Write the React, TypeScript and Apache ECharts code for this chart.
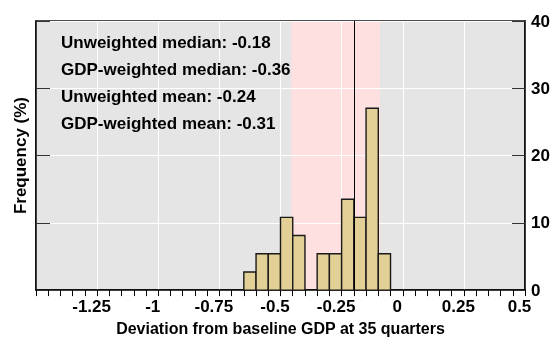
import React, { useEffect, useRef } from "react";
import * as echarts from "echarts";

const binLeft = [-0.65, -0.6, -0.55, -0.5, -0.45, -0.4, -0.35, -0.3, -0.25, -0.2, -0.15, -0.1];
const binWidth = 0.05;
const frequency = [2.7, 5.41, 5.41, 10.81, 8.11, 0, 5.41, 5.41, 13.51, 10.81, 27.03, 5.41];
const bandRange = [-0.455, -0.093];
const medianLine = -0.2;
const xRange = [-1.5, 0.5];
const yRange = [0, 40];
const annotations = [
  "Unweighted median: -0.18",
  "GDP-weighted median: -0.36",
  "Unweighted mean: -0.24",
  "GDP-weighted mean: -0.31",
];
const annotationY = [42, 69, 96.5, 123.5];

const FONT = '"Liberation Sans", Arial, Helvetica, sans-serif';

export default function App() {
  const ref = useRef<HTMLDivElement>(null);
  useEffect(() => {
    if (!ref.current) return;
    const chart = echarts.init(ref.current, null, { renderer: "svg" });
    const data = binLeft
      .map((l, i) => [l, l + binWidth, frequency[i]])
      .filter((d) => d[2] > 0);
    const areas = [
      [xRange[0], xRange[1], 0],
      [bandRange[0], bandRange[1], 1],
    ];
    const areaColors = ["#e5e5e5", "#ffe0e0"];
    chart.setOption({
      animation: false,
      grid: {
        left: 36,
        right: 30,
        top: 21,
        bottom: 50,
        show: true,
        backgroundColor: "transparent",
        borderColor: "#111",
        borderWidth: 1.5,
      },
      xAxis: {
        type: "value",
        min: xRange[0],
        max: xRange[1],
        interval: 0.25,
        axisLine: { show: true, onZero: false, lineStyle: { color: "#000", width: 1.5 } },
        axisTick: { show: true, inside: false, length: 6, lineStyle: { color: "#000", width: 1 } },
        minorTick: { show: true, splitNumber: 5, length: 6, lineStyle: { color: "#000", width: 1 } },
        splitLine: { show: true, lineStyle: { color: "#fff", width: 1 } },
        axisLabel: {
          showMinLabel: false,
          showMaxLabel: true,
          margin: 8,
          color: "#000",
          fontSize: 17,
          fontWeight: "bold",
          fontFamily: FONT,
          padding: [0, 11, 0, 0],
          formatter: (v: number) => String(Math.round(v * 100) / 100),
        },
        name: "Deviation from baseline GDP at 35 quarters",
        nameLocation: "middle",
        nameGap: 29,
        nameTextStyle: { color: "#000", fontSize: 16, fontWeight: "bold", fontFamily: FONT },
      },
      yAxis: [
        {
          type: "value",
          position: "right",
          min: yRange[0],
          max: yRange[1],
          interval: 10,
          axisLine: { show: true, onZero: false, lineStyle: { color: "#000", width: 1.5 } },
          axisTick: { show: true, inside: true, length: 13, lineStyle: { color: "#333", width: 1 } },
          splitLine: { show: true, lineStyle: { color: "#fff", width: 1 } },
          axisLabel: {
            margin: 6,
            color: "#000",
            fontSize: 17,
            fontWeight: "bold",
            fontFamily: FONT,
          },
        },
        {
          type: "value",
          position: "left",
          min: yRange[0],
          max: yRange[1],
          interval: 10,
          axisLine: { show: true, onZero: false, lineStyle: { color: "#000", width: 1.5 } },
          axisTick: { show: true, inside: true, length: 14, lineStyle: { color: "#333", width: 1 } },
          splitLine: { show: false },
          axisLabel: { show: false },
          name: "Frequency (%)",
          nameLocation: "middle",
          nameGap: 7,
          nameRotate: 90,
          nameTextStyle: { color: "#000", fontSize: 17, fontWeight: "bold", fontFamily: FONT },
        },
      ],
      series: [
        {
          type: "custom",
          z: -1,
          silent: true,
          xAxisIndex: 0,
          yAxisIndex: 0,
          encode: { x: [0, 1] },
          data: areas,
          renderItem: (params: any, api: any) => {
            const p0 = api.coord([api.value(0), yRange[1]]);
            const p1 = api.coord([api.value(1), yRange[0]]);
            return {
              type: "rect",
              shape: { x: p0[0], y: p0[1], width: p1[0] - p0[0], height: p1[1] - p0[1] },
              style: { fill: areaColors[api.value(2)] },
            };
          },
        },
        {
          type: "custom",
          z: 3,
          xAxisIndex: 0,
          yAxisIndex: 0,
          encode: { x: [0, 1], y: 2 },
          data,
          renderItem: (params: any, api: any) => {
            const p0 = api.coord([api.value(0), api.value(2)]);
            const p1 = api.coord([api.value(1), 0]);
            return {
              type: "rect",
              shape: { x: p0[0], y: p0[1], width: p1[0] - p0[0], height: p1[1] - p0[1] },
              style: { fill: "#e3d096", stroke: "#1a1a1a", lineWidth: 1.4 },
            };
          },
          markLine: {
            silent: true,
            symbol: "none",
            label: { show: false },
            lineStyle: { color: "#000", width: 1, type: "solid" },
            data: [{ xAxis: medianLine }],
          },
        },
      ],
      graphic: annotations.map((t, i) => ({
        type: "text",
        x: 61,
        y: annotationY[i],
        z: 10,
        style: {
          text: t,
          fill: "#000",
          fontSize: 17,
          fontWeight: "bold",
          fontFamily: FONT,
          verticalAlign: "middle",
        },
      })),
    });
    return () => chart.dispose();
  }, []);
  return (
    <div
      ref={ref}
      style={{ position: "fixed", left: 0, top: 0, width: 555, height: 341 }}
    />
  );
}
